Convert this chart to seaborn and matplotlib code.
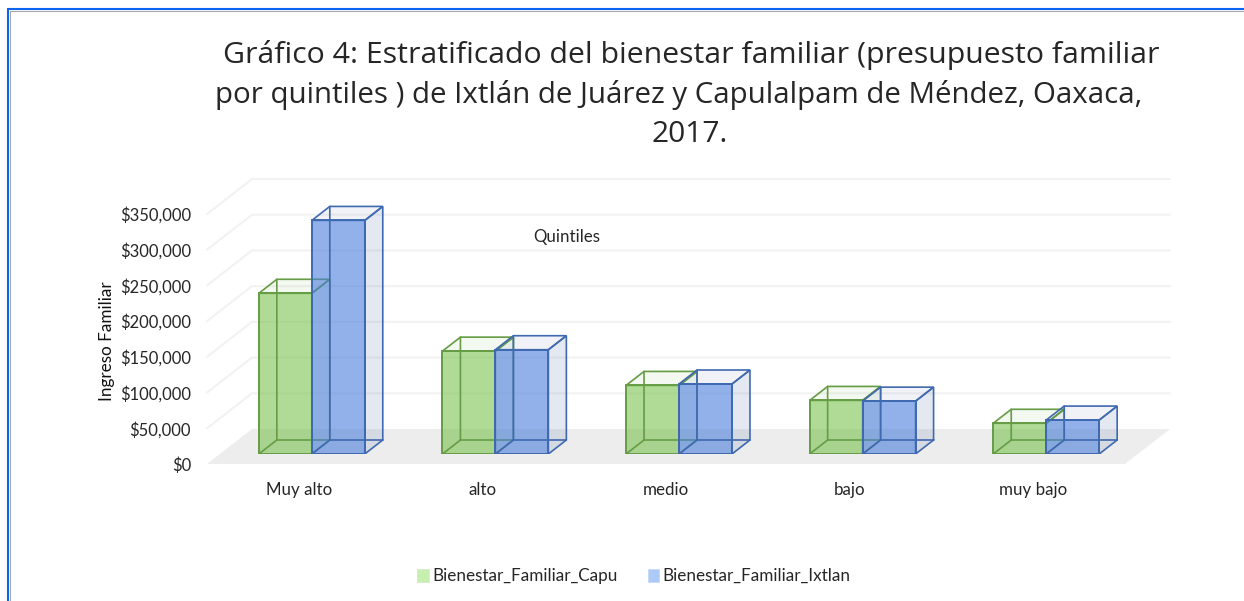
import matplotlib
matplotlib.use("Agg")
import matplotlib.pyplot as plt
from matplotlib.lines import Line2D
from matplotlib.patches import Patch, Polygon
import pandas as pd
import seaborn as sns

categories = ["Muy alto", "alto", "medio", "bajo", "muy bajo"]
capu_values = [225000, 144000, 96000, 75000, 43000]
ixtlan_values = [327000, 146000, 98000, 74000, 47500]
series_names = ["Bienestar_Familiar_Capu", "Bienestar_Familiar_Ixtlan"]
y_ticks = [0, 50000, 100000, 150000, 200000, 250000, 300000, 350000]
title_lines = ["Gráfico 4: Estratificado del bienestar familiar (presupuesto familiar",
               "por quintiles ) de Ixtlán de Juárez y Capulalpam de Méndez, Oaxaca,",
               "2017."]

W, H = 1244, 601

GREEN_EDGE = "#659C45"
BLUE_EDGE = "#3F69B0"
TEXT = "#262626"


def px_axes(fig, left, right, bottom, top):
    # axes placed by pixel position, y counted from the top of the picture
    return fig.add_axes([left / W, 1 - bottom / H, (right - left) / W, (bottom - top) / H])


def draw_depth(ax, patch, side_color, top_color, edge, z, dx, dy):
    x0, x1 = patch.get_x(), patch.get_x() + patch.get_width()
    y0, y1 = patch.get_y(), patch.get_y() + patch.get_height()
    ax.add_patch(Polygon([(x1, y0), (x1 + dx, y0 + dy), (x1 + dx, y1 + dy), (x1, y1)],
                         fc=side_color, ec=edge, lw=1.2, zorder=z))
    ax.add_patch(Polygon([(x0, y1), (x0 + dx, y1 + dy), (x1 + dx, y1 + dy), (x1, y1)],
                         fc=top_color, ec=edge, lw=1.2, zorder=z))
    # hidden edges show through the translucent front
    ax.plot([x0, x0 + dx, x0 + dx], [y0, y0 + dy, y1 + dy], color=edge, lw=1.2, zorder=z + 2)
    ax.plot([x0 + dx, x1 + dx], [y0 + dy, y0 + dy], color=edge, lw=1.2, zorder=z + 2)


sns.set_theme(style="white")
plt.rcParams["font.family"] = ["Lato", "DejaVu Sans"]

fig = plt.figure(figsize=(W / 100, H / 100), dpi=100)

# floor, walls and axis labels
wall = px_axes(fig, 207, 1125, 464, 214)
wall.set_xlim(-0.5, 4.5)
wall.set_ylim(0, 350000)
wall_dx = 45 / 183.6
wall_dy = 35 / 250 * 350000
wall.add_patch(Polygon([(-0.5, 0), (-0.5 + wall_dx, wall_dy), (4.5 + wall_dx, wall_dy), (4.5, 0)],
                       fc="#EDEDED", ec="none", clip_on=False, zorder=1))
for v in y_ticks[1:]:
    wall.plot([-0.5, -0.5 + wall_dx, 4.5 + wall_dx], [v, v + wall_dy, v + wall_dy],
              color="#F2F2F2", lw=1.5, clip_on=False, zorder=1)
wall.set_xticks(range(5), categories, fontsize=12.2, color=TEXT)
wall.set_yticks(y_ticks, [f"${v:,}" for v in y_ticks], fontsize=11.9, color=TEXT)
wall.tick_params(axis="x", length=0, pad=13)
wall.tick_params(axis="y", length=0, pad=11.5)
wall.set_ylabel("Ingreso Familiar", fontsize=12.3, color="#111111", labelpad=10)
wall.yaxis.set_label_coords(-92 / 918, 0.49)
sns.despine(ax=wall, left=True, bottom=True)

# bars stand on the middle of the floor
ax = px_axes(fig, 220, 1138, 454, 204)
ax.patch.set_alpha(0)
df = pd.DataFrame({"quintil": categories * 2,
                   "ingreso": capu_values + ixtlan_values,
                   "serie": [series_names[0]] * 5 + [series_names[1]] * 5})
sns.barplot(data=df, x="quintil", y="ingreso", hue="serie", ax=ax, width=0.577, gap=0,
            palette=["#6FBF40", "#4A7EDC"], saturation=1, legend=False, zorder=4)
ax.set_xlim(-0.5, 4.5)
ax.set_ylim(0, 350000)
ax.set_xlabel("")
ax.set_ylabel("")
ax.set_xticks([])
ax.set_yticks([])
sns.despine(ax=ax, left=True, bottom=True)

bar_dx = 18 / 183.6
bar_dy = 14 / 250 * 350000
styles = [(GREEN_EDGE, (0.44, 0.68, 0.28, 0.08), (0.44, 0.68, 0.28, 0.08), 3, 0.55),
          (BLUE_EDGE, (0.27, 0.38, 0.60, 0.14), (0.27, 0.38, 0.60, 0.08), 6, 0.6)]
for container, (edge, side, top, z, alpha) in zip(ax.containers, styles):
    for bar in container:
        draw_depth(ax, bar, side, top, edge, z, bar_dx, bar_dy)
        bar.set_edgecolor(edge)
        bar.set_linewidth(1.4)
        bar.set_zorder(z + 1)
        # keep the outline solid while the fill stays translucent
        face = bar.get_facecolor()
        bar.set_facecolor((face[0], face[1], face[2], alpha))

fig.text(567 / W, 1 - 237 / H, "Quintiles", fontsize=12.2, color=TEXT, ha="center", va="center")
for line, x, y, size in zip(title_lines, [691, 679, 690], [55, 95, 135], [21.75, 21.25, 21.5]):
    fig.text(x / W, 1 - y / H, line, fontsize=size, color=TEXT, ha="center", va="center",
             family=["Open Sans", "DejaVu Sans"])

handles = [Patch(fc="#C6EFB0", ec="#D5E8C8", lw=0.5), Patch(fc="#ADCBF8", ec="#C5D8F0", lw=0.5)]
fig.legend(handles, series_names, loc="center", bbox_to_anchor=(634 / W, 1 - 576 / H), ncol=2,
           frameon=False, fontsize=12.3, labelcolor=TEXT, handlelength=0.65, handleheight=0.8,
           handletextpad=0.2, columnspacing=1.8)

# blue window frame with a thin grey inner line
for xs, ys, color, lw in [((8, 8), (601, 8.5), "#0A64F0", 1.5),
                          ((8, 1244), (8.5, 8.5), "#0A64F0", 1.5),
                          ((10, 10), (601, 10.5), "#A8A8A8", 0.8),
                          ((10, 1244), (10.5, 10.5), "#A8A8A8", 0.8)]:
    fig.add_artist(Line2D([x / W for x in xs], [1 - y / H for y in ys], color=color, lw=lw))

fig.savefig("out.png", dpi=100, facecolor="white")
